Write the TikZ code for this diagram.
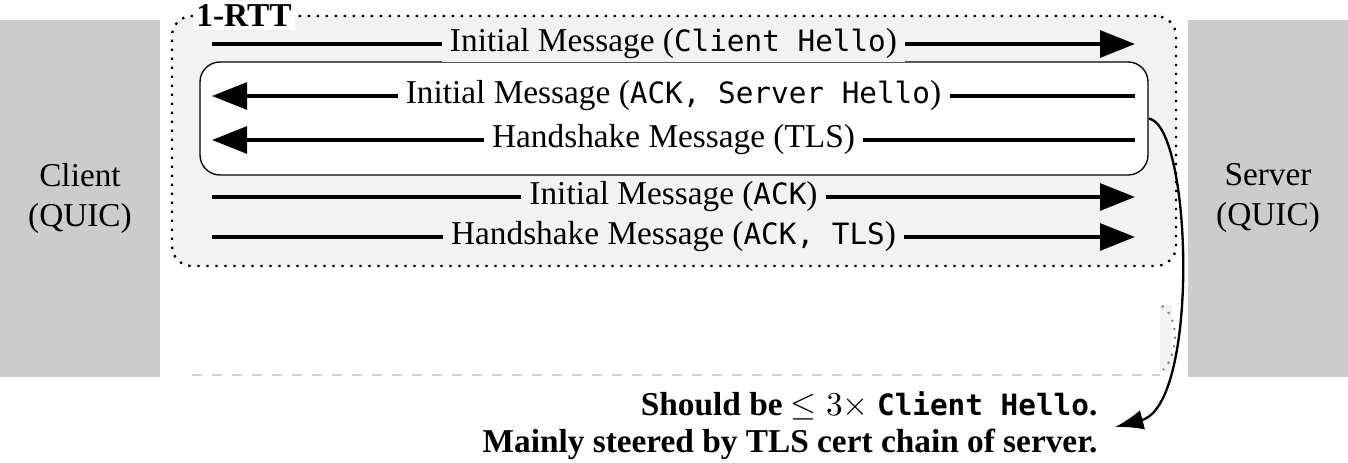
\documentclass[tikz,border=0pt]{standalone}
\usepackage{fontspec}
\setmainfont{Liberation Serif}
\setmonofont{DejaVu Sans Mono}[Scale=0.88]
\usetikzlibrary{arrows.meta,positioning}
\definecolor{hostgray}{HTML}{CCCCCC}
\definecolor{rttgray}{HTML}{F2F2F2}
\tikzset{
  host/.style={fill=hostgray,minimum width=48pt,minimum height=107.1pt,align=center,inner sep=0pt},
  msg/.style={line width=1.2pt,-{Triangle[length=10.5pt,width=8pt]}},
  lbl/.style={fill=#1,inner xsep=2.5pt,inner ysep=1pt},
  lbl/.default=rttgray,
}
\begin{document}
\begin{tikzpicture}[x=0.3pt,y=-0.3pt]
    \useasboundingbox (0,0) rectangle (1348,463);
    % client e server
    \node[host] (client) at (80,198.5) {Client\\(QUIC)};
    \node[host] (server) at (1268,198.5) {Server\\(QUIC)};

    % resto di una seconda cornice
    \draw[dashed,gray!35] (192,375)--(1160,375);
    \fill[rttgray] (1160,305) rectangle (1172,372);
    \draw[dotted,line width=0.6pt,gray] (1162,306) .. controls (1180,318) and (1178,355) .. (1163,370);

    % cornice 1-RTT
    \node[draw,dotted,line width=0.7pt,fill=rttgray,rounded corners=6pt,minimum width=301.2pt,minimum height=75pt,inner sep=0pt] (rtt) at (674,141) {};
    \node[fill=white,font=\bfseries,inner sep=1pt] (rttlbl) at (244,16) {1-RTT};
    \node[draw,line width=0.4pt,fill=white,rounded corners=6pt,minimum width=284.4pt,minimum height=33.9pt,inner sep=0pt] (srvbox) at (674,118.5) {};

    \foreach \i/\y in {1/44,2/96,3/140,4/197,5/237}{
        \coordinate (c\i) at (212,\y);
        \coordinate (s\i) at (1135,\y);
    }
    % messaggi
    \draw[msg] (c1)--node[lbl] (m1) {Initial Message (\texttt{Client Hello})}(s1);
    \draw[msg] (s2)--node[lbl=white] (m2) {Initial Message (\texttt{ACK, Server Hello})}(c2);
    \draw[msg] (s3)--node[lbl=white] (m3) {Handshake Message (TLS)}(c3);
    \draw[msg] (c4)--node[lbl] (m4) {Initial Message (\texttt{ACK})}(s4);
    \draw[msg] (c5)--node[lbl] (m5) {Handshake Message (\texttt{ACK, TLS})}(s5);

    % nota
    \node[anchor=east,font=\bfseries,inner sep=0pt] (note1) at (1098,406) {Should be $\leq 3\times$ \texttt{Client Hello}.};
    \node[anchor=east,font=\bfseries,inner sep=0pt] (note2) at (1098,444) {Mainly steered by TLS cert chain of server.};
    \coordinate (tip) at (1115,427);
    \draw[line width=0.7pt,-{Latex[length=8.5pt,width=6pt]}] (srvbox.east) .. controls (1192,125) and (1200,405) .. (tip);
\end{tikzpicture}
\end{document}
